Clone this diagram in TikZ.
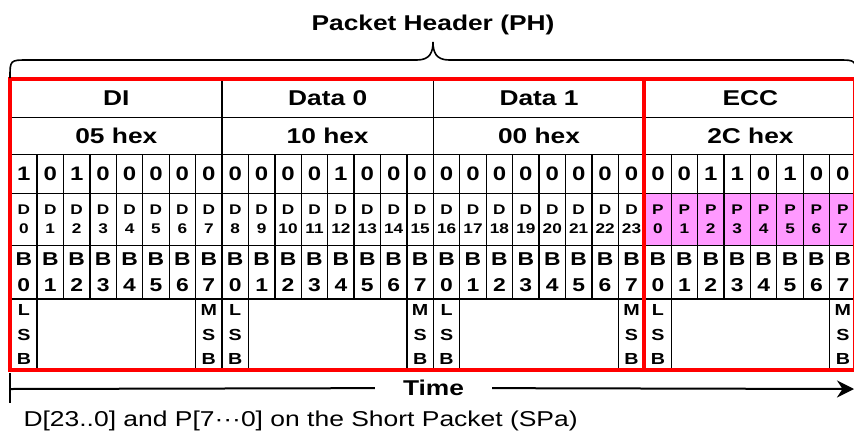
\documentclass[tikz,border=0pt]{standalone}
\usepackage{fontspec}
\setmainfont{Liberation Sans}
\newfontfamily\widefont[FakeStretch=1.23]{Liberation Sans}
\usetikzlibrary{arrows.meta}

\definecolor{parpink}{HTML}{FF99FF}
\newcommand{\cw}{26.42}

\begin{document}
\begin{tikzpicture}[x=1pt, y=-1pt,
  cell/.style={draw, line width=1.3pt, anchor=north west, inner sep=0pt,
    minimum width=\cw pt, align=center},
  bytecell/.style={cell, minimum width=8*\cw pt},
  frame/.style={red, line width=4.5pt}]
  \useasboundingbox (0,0) rectangle (854,437);
  \clip (0,0) rectangle (854,437);

  % byte names and values
  \foreach \name/\val [count=\k from 0] in {DI/05, Data 0/10, Data 1/00, ECC/2C} {
    \node[bytecell, minimum height=37.7pt, font=\widefont\bfseries\fontsize{21.4}{24}\selectfont]
      (hdr\k) at (10+8*\k*\cw, 79) {\name};
    \node[bytecell, minimum height=37.3pt, font=\widefont\bfseries\fontsize{21.4}{24}\selectfont]
      (hex\k) at (10+8*\k*\cw, 116.7) {\val\ hex};
  }

  % bit values, LSB first
  \foreach \b [count=\i from 0] in {1,0,1,0,0,0,0,0, 0,0,0,0,1,0,0,0,
                                    0,0,0,0,0,0,0,0, 0,0,1,1,0,1,0,0} {
    \pgfmathtruncatemacro{\bn}{mod(\i,8)}
    \node[cell, minimum height=38.7pt, font=\widefont\bfseries\fontsize{19.5}{22}\selectfont]
      (bit\i) at (10+\i*\cw, 154) {\b};
    \ifnum\i<24
      \node[cell, minimum height=52.3pt, font=\widefont\bfseries\fontsize{14}{19}\selectfont]
        (dl\i) at (10+\i*\cw, 192.7) {D\\\i};
    \else
      \pgfmathtruncatemacro{\pn}{\i-24}
      \node[cell, fill=parpink, minimum height=52.3pt, font=\widefont\bfseries\fontsize{14}{19}\selectfont]
        (dl\i) at (10+\i*\cw, 192.7) {P\\\pn};
    \fi
    \node[cell, minimum height=53.3pt, font=\widefont\bfseries\fontsize{18.6}{26}\selectfont]
      (bl\i) at (10+\i*\cw, 245) {B\\\bn};
  }

  % LSB / MSB marks
  \foreach \k in {0,...,3} {
    \node[cell, minimum height=71.7pt, font=\widefont\bfseries\fontsize{16}{24.5}\selectfont]
      (lsb\k) at (10+8*\k*\cw, 298.3) {L\\S\\B};
    \node[cell, minimum height=71.7pt, font=\widefont\bfseries\fontsize{16}{24.5}\selectfont]
      (msb\k) at (10+8*\k*\cw+7*\cw, 298.3) {M\\S\\B};
  }

  % red frames
  \draw[frame] (10,79) rectangle (10+24*\cw, 370);
  \draw[frame] (10+24*\cw,79) rectangle (10+32*\cw, 370);

  % brace and title
  \draw[line width=1.6pt] (10,78) .. controls (10,60) .. (28,60) -- (417,60)
    .. controls (430,60) and (433,52) .. (433,42)
    .. controls (433,52) and (436,60) .. (449,60) -- (838,60)
    .. controls (856,60) .. (856,78);
  \node[anchor=base, font=\widefont\bfseries\fontsize{21.4}{24}\selectfont]
    (title) at (433,30.7) {Packet Header (PH)};

  % time axis
  \coordinate (tstart) at (10,389);
  \coordinate (tend) at (854,389);
  \coordinate (ttop) at (10,373);
  \coordinate (tbot) at (10,403);
  \node[inner xsep=28pt, inner ysep=0pt, font=\widefont\bfseries\fontsize{21.4}{24}\selectfont]
    (time) at (433.5,388) {Time};
  \draw[line width=1.6pt] (ttop) -- (tbot);
  \draw[line width=2pt] (tstart) -- (time);
  \draw[line width=2pt, -{Stealth[length=17pt, width=17pt]}] (time) -- (tend);

  \node[anchor=base west, font=\widefont\fontsize{21.5}{24}\selectfont]
    (caption) at (20,426.7) {D[23..0] and P[7···0] on the Short Packet (SPa)};
\end{tikzpicture}
\end{document}
